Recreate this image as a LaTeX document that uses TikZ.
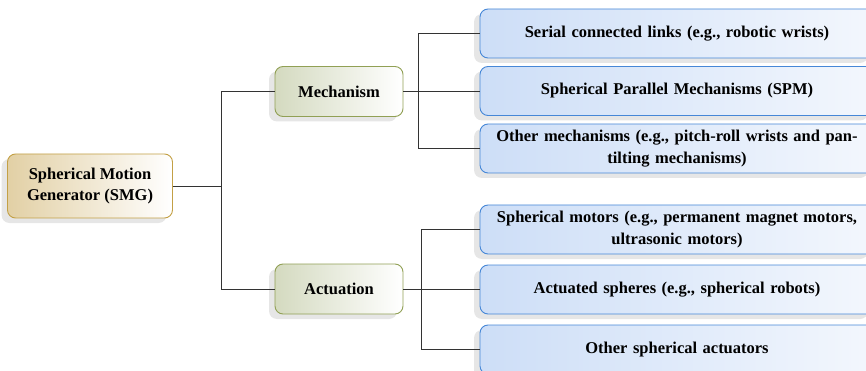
\documentclass[tikz,border=0pt]{standalone}
\usepackage{fontspec}
\setmainfont{Liberation Serif}
\usetikzlibrary{shadows}
\definecolor{leafblue}{RGB}{205,222,247}
\definecolor{leafwhite}{RGB}{243,247,253}
\definecolor{leafline}{RGB}{70,135,215}
\definecolor{midgreen}{RGB}{212,218,192}
\definecolor{midline}{RGB}{145,160,85}
\definecolor{roottan}{RGB}{226,208,165}
\definecolor{rootline}{RGB}{195,160,70}
\begin{document}
\begin{tikzpicture}
  [x=1pt,y=-1pt,
   every node/.style={font=\bfseries\fontsize{16.5}{21.5}\selectfont,rounded corners=8pt,
     drop shadow={shadow xshift=-6pt,shadow yshift=-5pt,opacity=.2}},
   rootbox/.style={draw=rootline,line width=.9pt,left color=roottan,right color=white,
     minimum width=165,minimum height=64,align=center},
   midbox/.style={draw=midline,line width=.9pt,left color=midgreen,right color=white,
     minimum width=128,minimum height=50},
   leaf/.style={draw=leafline,line width=.9pt,left color=leafblue,right color=leafwhite,
     minimum width=394,minimum height=49,inner xsep=16pt,text width=362,align=center},
   link/.style={draw=black!80,line width=.9pt}]
  \useasboundingbox (0,0) rectangle (866,371);

  \node[rootbox] (smg) at (90,186) {Spherical Motion\\Generator (SMG)};
  \node[midbox] (mech) at (339,91.5) {Mechanism};
  \node[midbox] (act) at (339,289) {Actuation};

  \node[leaf] (serial) at (677,33.5) {Serial connected links (e.g., robotic wrists)};
  \node[leaf] (spm) at (677,91) {Spherical Parallel Mechanisms (SPM)};
  \node[leaf] (othmech) at (677,148.5) {Other mechanisms (e.g., pitch-roll wrists and pan-\\tilting mechanisms)};
  \node[leaf] (motors) at (677,229.5) {Spherical motors (e.g., permanent magnet motors,\\ultrasonic motors)};
  \node[leaf] (spheres) at (677,289.5) {Actuated spheres (e.g., spherical robots)};
  \node[leaf] (othact) at (677,349.5) {Other spherical actuators};

  \foreach \to in {mech,act}
    \draw[link] (smg.east) -- ++(48,0) |- (\to.west);
  \foreach \to in {serial,spm,othmech}
    \draw[link] (mech.east) -- ++(15,0) |- (\to.west);
  \foreach \to in {motors,spheres,othact}
    \draw[link] (act.east) -- ++(18,0) |- (\to.west);

\end{tikzpicture}
\end{document}
